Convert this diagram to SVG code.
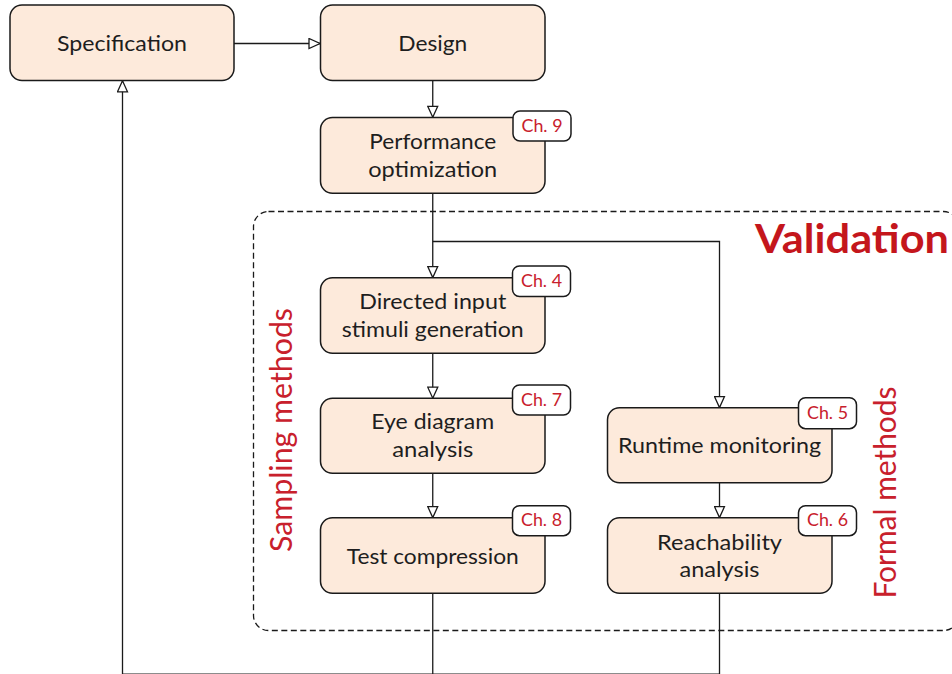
<svg xmlns="http://www.w3.org/2000/svg" width="952" height="674" viewBox="0 0 952 674">
<defs>
<style>
.box{fill:#fdeadb;stroke:#1a1a1a;stroke-width:1.5}
.tag{fill:#ffffff;stroke:#1a1a1a;stroke-width:1.5}
.lbl{font-family:Lato,"Open Sans","Liberation Sans",sans-serif;font-size:21px;fill:#1e1e1e;text-anchor:middle}
.ch{font-family:Lato,"Open Sans","Liberation Sans",sans-serif;font-size:17.5px;fill:#c8202c;text-anchor:middle}
.grp{font-family:Lato,"Open Sans","Liberation Sans",sans-serif;font-size:30px;fill:#c8202c;text-anchor:middle}
.conn{fill:none;stroke:#1a1a1a;stroke-width:1.3}
</style>
<marker id="arr" markerUnits="userSpaceOnUse" markerWidth="14" markerHeight="12" refX="11" refY="5" orient="auto" viewBox="-1 -1 14 12">
<path d="M0,0 L11,5 L0,10 z" fill="#ffffff" stroke="#1a1a1a" stroke-width="1.3"/>
</marker>
</defs>

<g id="validation-region">
<rect x="253.5" y="211.5" width="705" height="419" rx="15" fill="none" stroke="#1a1a1a" stroke-width="1.3" stroke-dasharray="6 3.5"/>
<text x="852" y="253" font-family="Lato,'Open Sans','Liberation Sans',sans-serif" font-size="40" font-weight="bold" fill="#c4161c" text-anchor="middle" textLength="194" lengthAdjust="spacingAndGlyphs">Validation</text>
<text class="grp" transform="translate(292,430) rotate(-90)" textLength="244" lengthAdjust="spacingAndGlyphs">Sampling methods</text>
<text class="grp" transform="translate(896,492.5) rotate(-90)" textLength="212" lengthAdjust="spacingAndGlyphs">Formal methods</text>
</g>

<g id="connectors">
<path class="conn" d="M234,43.5 H320" marker-end="url(#arr)"/>
<path class="conn" d="M432.75,80.5 V117.3" marker-end="url(#arr)"/>
<path class="conn" d="M432.75,193.3 V277.6" marker-end="url(#arr)"/>
<path class="conn" d="M432.75,241.5 H719.5 V407.6" marker-end="url(#arr)"/>
<path class="conn" d="M432.75,353.3 V398.2" marker-end="url(#arr)"/>
<path class="conn" d="M432.75,473.3 V517.6" marker-end="url(#arr)"/>
<path class="conn" d="M719.5,482.7 V517.6" marker-end="url(#arr)"/>
<path class="conn" d="M432.75,593.3 V676"/>
<path class="conn" d="M719.5,593.3 V674.2 H122.5 V80.8" marker-end="url(#arr)"/>
</g>

<g id="specification">
<rect class="box" x="10" y="5" width="224" height="75.5" rx="12"/>
<text class="lbl" x="122" y="51" textLength="130" lengthAdjust="spacingAndGlyphs">Specification</text>
</g>

<g id="design">
<rect class="box" x="320.5" y="5" width="224.5" height="75.5" rx="12"/>
<text class="lbl" x="432.75" y="51" textLength="69" lengthAdjust="spacingAndGlyphs">Design</text>
</g>

<g id="performance-optimization">
<rect class="box" x="320.5" y="117.5" width="224.5" height="75.8" rx="12"/>
<text class="lbl" x="432.75" y="149" textLength="127" lengthAdjust="spacingAndGlyphs">Performance</text>
<text class="lbl" x="432.75" y="177" textLength="129" lengthAdjust="spacingAndGlyphs">optimization</text>
<rect class="tag" x="513" y="111" width="58" height="30" rx="7"/>
<text class="ch" x="542" y="132" textLength="41" lengthAdjust="spacingAndGlyphs">Ch. 9</text>
</g>

<g id="directed-input">
<rect class="box" x="320.5" y="277.7" width="224.5" height="75.6" rx="12"/>
<text class="lbl" x="432.75" y="308.5" textLength="147" lengthAdjust="spacingAndGlyphs">Directed input</text>
<text class="lbl" x="432.75" y="336.5" textLength="182" lengthAdjust="spacingAndGlyphs">stimuli generation</text>
<rect class="tag" x="512.5" y="266" width="58" height="30.5" rx="7"/>
<text class="ch" x="541.5" y="286.8" textLength="41" lengthAdjust="spacingAndGlyphs">Ch. 4</text>
</g>

<g id="eye-diagram">
<rect class="box" x="320.5" y="398.3" width="224.5" height="75" rx="12"/>
<text class="lbl" x="432.75" y="429" textLength="123" lengthAdjust="spacingAndGlyphs">Eye diagram</text>
<text class="lbl" x="432.75" y="457" textLength="81" lengthAdjust="spacingAndGlyphs">analysis</text>
<rect class="tag" x="512.5" y="385" width="58" height="30" rx="7"/>
<text class="ch" x="541.5" y="405.7" textLength="41" lengthAdjust="spacingAndGlyphs">Ch. 7</text>
</g>

<g id="test-compression">
<rect class="box" x="320.5" y="517.7" width="224.5" height="75.6" rx="12"/>
<text class="lbl" x="432.75" y="563.5" textLength="172" lengthAdjust="spacingAndGlyphs">Test compression</text>
<rect class="tag" x="512.5" y="505.7" width="58" height="30" rx="7"/>
<text class="ch" x="541.5" y="526.4" textLength="41" lengthAdjust="spacingAndGlyphs">Ch. 8</text>
</g>

<g id="runtime-monitoring">
<rect class="box" x="607.5" y="407.7" width="224.5" height="75" rx="12"/>
<text class="lbl" x="719.5" y="453.3" textLength="203" lengthAdjust="spacingAndGlyphs">Runtime monitoring</text>
<rect class="tag" x="798.5" y="397.7" width="58" height="31" rx="7"/>
<text class="ch" x="827.5" y="419" textLength="41" lengthAdjust="spacingAndGlyphs">Ch. 5</text>
</g>

<g id="reachability-analysis">
<rect class="box" x="607.5" y="517.7" width="224.5" height="75.6" rx="12"/>
<text class="lbl" x="719.5" y="550" textLength="125" lengthAdjust="spacingAndGlyphs">Reachability</text>
<text class="lbl" x="719.5" y="577" textLength="80" lengthAdjust="spacingAndGlyphs">analysis</text>
<rect class="tag" x="798.5" y="505.7" width="58" height="30" rx="7"/>
<text class="ch" x="827.5" y="526.4" textLength="41" lengthAdjust="spacingAndGlyphs">Ch. 6</text>
</g>
</svg>
